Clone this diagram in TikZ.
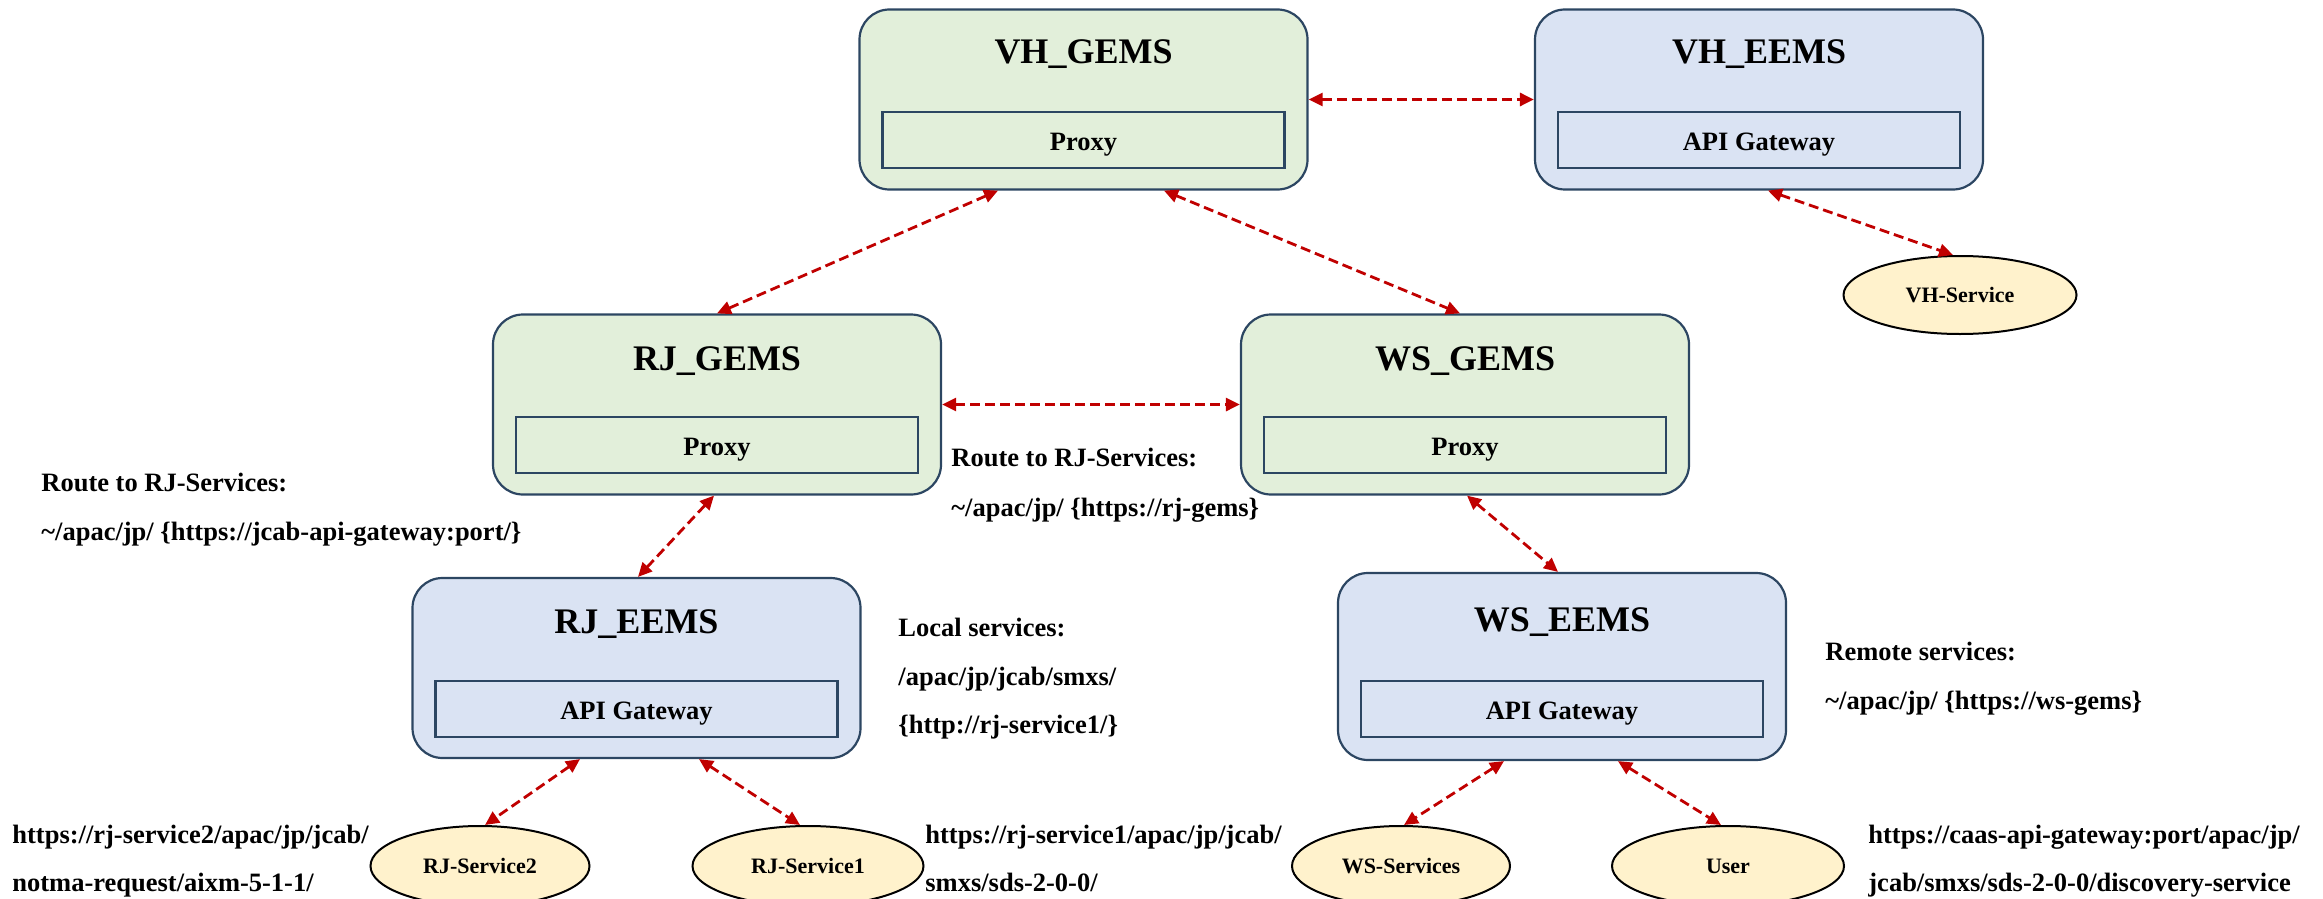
\documentclass[tikz,border=0pt]{standalone}
\usepackage{fontspec}
\setmainfont{Liberation Serif}
\usetikzlibrary{arrows.meta,shapes.geometric}
\definecolor{gemsfill}{RGB}{226,239,218}
\definecolor{eemsfill}{RGB}{218,227,243}
\definecolor{svcfill}{RGB}{255,242,204}
\definecolor{edgeblue}{RGB}{44,70,98}
\definecolor{linkred}{RGB}{192,0,0}
\begin{document}
\begin{tikzpicture}[x=0.5pt,y=-0.5pt,
  box/.style={draw=edgeblue, line width=1.1pt, rounded corners=15pt,
    minimum width=224pt, minimum height=90pt, inner sep=0pt},
  gems/.style={box, fill=gemsfill},
  eems/.style={box, fill=eemsfill},
  inbox/.style={draw=edgeblue, line width=1.1pt, minimum width=201pt,
    minimum height=28pt, inner sep=0pt, text height=10pt, text depth=0pt,
    font=\bfseries\fontsize{13.25pt}{15pt}\selectfont},
  ttl/.style={anchor=base, inner sep=0pt,
    font=\bfseries\fontsize{18pt}{21pt}\selectfont},
  svc/.style={ellipse, draw=black, line width=1pt, fill=svcfill,
    minimum height=40pt, inner sep=0pt,
    font=\bfseries\fontsize{11pt}{13pt}\selectfont},
  lbl/.style={anchor=base west, inner sep=0pt,
    font=\bfseries\fontsize{13.25pt}{15pt}\selectfont},
  tip/.tip={Triangle[length=7pt,width=6.5pt]},
  link/.style={draw=linkred, line width=1.4pt,
    dash pattern=on 5pt off 2.5pt, tip-tip}
]
\useasboundingbox (0,0) rectangle (2323,899);

% gateway / exchange boxes
\node[gems] (vhg) at (1083.5,99.5) {};
\node[ttl] (vhgt) at (1083.5,64) {VH\_GEMS};
\node[inbox] (vhgp) at (1083.5,140) {Proxy};

\node[eems] (vhe) at (1759,99.5) {};
\node[ttl] (vhet) at (1759,64) {VH\_EEMS};
\node[inbox] (vhea) at (1759,140) {API Gateway};

\node[gems] (rjg) at (717,404.5) {};
\node[ttl] (rjgt) at (717,370) {RJ\_GEMS};
\node[inbox] (rjgp) at (717,445) {Proxy};

\node[gems] (wsg) at (1465,404.5) {};
\node[ttl] (wsgt) at (1465,370) {WS\_GEMS};
\node[inbox] (wsgp) at (1465,445) {Proxy};

\node[eems] (rje) at (636.5,668) {};
\node[ttl] (rjet) at (636.5,633) {RJ\_EEMS};
\node[inbox] (rjea) at (636.5,709) {API Gateway};

\node[eems, minimum height=93.5pt] (wse) at (1562,666.5) {};
\node[ttl] (wset) at (1562,631) {WS\_EEMS};
\node[inbox] (wsea) at (1562,709) {API Gateway};

% services
\node[svc, minimum width=116.5pt, minimum height=39pt] (vhs) at (1960,295) {VH-Service};
\node[svc, minimum width=109.5pt] (rs2) at (480,866) {RJ-Service2};
\node[svc, minimum width=115.5pt] (rs1) at (808,866) {RJ-Service1};
\node[svc, minimum width=109pt] (wss) at (1401,866) {WS-Services};
\node[svc, minimum width=116pt] (usr) at (1728,866) {User};

% routing notes
\node[lbl] (lra) at (41,491) {Route to RJ-Services:};
\node[lbl] (lrb) at (41,540) {\textasciitilde/apac/jp/ \{https://jcab-api-gateway:port/\}};
\node[lbl] (mra) at (951,466) {Route to RJ-Services:};
\node[lbl] (mrb) at (951,516) {\textasciitilde/apac/jp/ \{https://rj-gems\}};
\node[lbl] (lsa) at (898,636) {Local services:};
\node[lbl] (lsb) at (898,685) {/apac/jp/jcab/smxs/};
\node[lbl] (lsc) at (898,733) {\{http://rj-service1/\}};
\node[lbl] (rma) at (1825,660) {Remote services:};
\node[lbl] (rmb) at (1825,709) {\textasciitilde/apac/jp/ \{https://ws-gems\}};
\node[lbl] (ua) at (12,843) {https://rj-service2/apac/jp/jcab/};
\node[lbl] (ub) at (12,891) {notma-request/aixm-5-1-1/};
\node[lbl] (uc) at (925,843) {https://rj-service1/apac/jp/jcab/};
\node[lbl] (ud) at (925,891) {smxs/sds-2-0-0/};
\node[lbl] (ue) at (1868,843) {https://caas-api-gateway:port/apac/jp/};
\node[lbl] (uf) at (1868,891) {jcab/smxs/sds-2-0-0/discovery-service};

% links
\draw[link] (vhg.east) -- (vhe.west);
\draw[link] ([xshift=-42.75pt]vhg.south) -- (rjg.north);
\draw[link] ([xshift=40.25pt]vhg.south) -- ([xshift=-2.5pt]wsg.north);
\draw[link] ([xshift=4.5pt]vhe.south) -- ([xshift=-3.5pt]vhs.north);
\draw[link] (rjg.east) -- (wsg.west);
\draw[link] ([xshift=-1.5pt]rjg.south) -- ([xshift=0.75pt]rje.north);
\draw[link] ([xshift=1pt]wsg.south) -- ([xshift=-2pt]wse.north);
\draw[link] ([xshift=-28.25pt]rje.south) -- ([xshift=2.5pt]rs2.north);
\draw[link] ([xshift=31.25pt]rje.south) -- ([xshift=-4pt]rs1.north);
\draw[link] ([xshift=-29pt]wse.south) -- ([xshift=1.5pt]wss.north);
\draw[link] ([xshift=28pt]wse.south) -- ([xshift=-3.5pt]usr.north);
\end{tikzpicture}
\end{document}
